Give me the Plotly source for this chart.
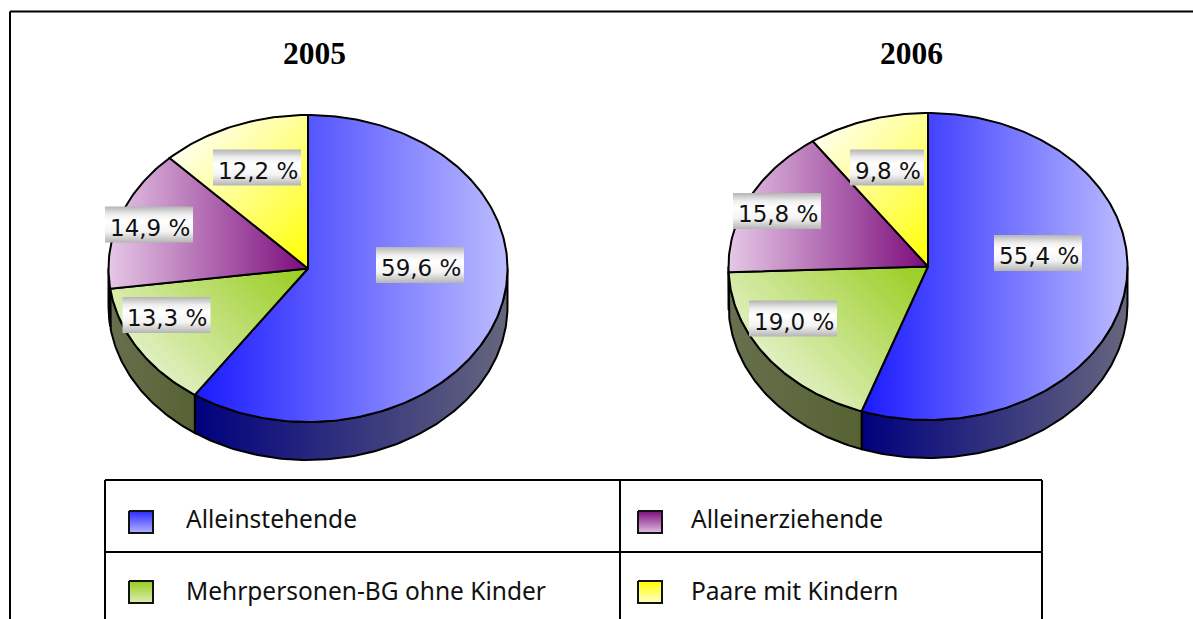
import numpy as np
import plotly.graph_objects as go

# ---- data ----
years = ["2005", "2006"]
categories = ["Alleinstehende", "Mehrpersonen-BG ohne Kinder", "Alleinerziehende", "Paare mit Kindern"]
values_2005 = [59.6, 13.3, 14.9, 12.2]
values_2006 = [55.4, 19.0, 15.8, 9.8]
labels_2005 = ["59,6 %", "13,3 %", "14,9 %", "12,2 %"]
labels_2006 = ["55,4 %", "19,0 %", "15,8 %", "9,8 %"]

# ---- layout constants ----
W, H = 1193, 619
PIES = [
    dict(year=years[0], values=values_2005, labels=labels_2005, cx=308, cy=268.5, rx=199.5, ry=153.5, depth=38,
         title_x=314.5, boxes=[(420, 265, 88), (166.5, 315, 88), (149, 224.5, 88), (257, 167.5, 88)]),
    dict(year=years[1], values=values_2006, labels=labels_2006, cx=928, cy=266.5, rx=199.5, ry=153.5, depth=38,
         title_x=911, boxes=[(1038, 253, 88), (793, 318.5, 88), (777, 211, 88), (887, 167.5, 74)]),
]
TITLE_Y = 53
PAD = 8
BOX_H = 36

TOP = [
    dict(kind="h", c0="#1a1aff", c1="#bcbcff"),
    dict(kind="d", c0="#98cc1c", c1="#e0f0c0", dir=(-1, -1)),
    dict(kind="h", c0="#e6c8e6", c1="#7c0c7c"),
    dict(kind="d", c0="#ffff00", c1="#ffffee", dir=(-1, 1)),
]
SIDE = [("#00007e", "#66667e"), ("#66704e", "#566232"), ("#4a204a", "#4a204a"), ("#808000", "#808000")]

LEG_COLORS = [("#2a2aff", "#b4b4ff"), ("#98cc1c", "#dcedb4"), ("#7c0c7c", "#e0c0e0"), ("#ffff00", "#ffffc8")]
LEG_SW = [(129, 511), (129, 581), (638, 511), (638, 581)]
LEG_TX = [(184, 518), (184, 590), (689, 518), (689, 590)]
SW_W, SW_H = 24, 22
TABLE = dict(x0=105, x1=1042, xm=620, top=480, mid=552)
FRAME = dict(x=10, y=11.5)

LABEL_FONT = dict(family="DejaVu Sans", size=23, color="#111111")
LEG_FONT = dict(family="Noto Sans", size=24.5, color="#111111")
TITLE_FONT = dict(family="Liberation Serif", size=31.5, color="#000000")


def hex2rgb(h):
    return np.array([int(h[i:i + 2], 16) for i in (1, 3, 5)], float)


def mix(c0, c1, t):
    a = hex2rgb(c0) * (1 - t) + hex2rgb(c1) * t
    return "rgb(%d,%d,%d)" % tuple(a.round())


def arc(a, b):
    n = max(2, int(abs(b - a)) + 2)
    th = np.radians(np.linspace(a, b, n))
    return np.sin(th), np.cos(th)


def clip(poly, n, lim):
    """Keep the part of a convex polygon where dot(p, n) <= lim."""
    out = []
    for i in range(len(poly)):
        p, q = poly[i], poly[(i + 1) % len(poly)]
        dp, dq = p @ n - lim, q @ n - lim
        if dp <= 0:
            out.append(p)
        if dp * dq < 0:
            out.append(p + (q - p) * dp / (dp - dq))
    return np.array(out)


fig = go.Figure()
layout_axes = {}

for idx, pie in enumerate(PIES):
    s = "" if idx == 0 else str(idx + 1)
    xa, ya = "x" + s, "y" + s
    cx, cy, rx, ry, depth = pie["cx"], pie["cy"], pie["rx"], pie["ry"], pie["depth"]
    top_px, bot_px = cy - ry - PAD, cy + ry + depth + PAD
    layout_axes["xaxis" + s] = dict(domain=[(cx - rx - PAD) / W, (cx + rx + PAD) / W],
                                    range=[-(rx + PAD) / rx, (rx + PAD) / rx], visible=False, fixedrange=True)
    layout_axes["yaxis" + s] = dict(domain=[1 - bot_px / H, 1 - top_px / H],
                                    range=[(cy - bot_px) / ry, (cy - top_px) / ry], visible=False, fixedrange=True)
    d = depth / ry
    edges = np.concatenate([[0], np.cumsum(pie["values"])]) / sum(pie["values"]) * 360

    # side walls
    for i in range(len(pie["values"])):
        a, b = max(edges[i], 90), min(edges[i + 1], 270)
        if a >= b:
            continue
        ux, uy = arc(a, b)
        x = np.concatenate([ux, ux[::-1], ux[:1]])
        y = np.concatenate([uy, uy[::-1] - d, uy[:1]])
        c0, c1 = SIDE[i]
        fig.add_trace(go.Scatter(x=x, y=y, xaxis=xa, yaxis=ya, mode="lines", fill="toself",
                                 line=dict(color="black", width=2), hoverinfo="skip", showlegend=False,
                                 fillgradient=dict(type="horizontal",
                                                   colorscale=[[0, c0], [1, c1]])))

    # top slices
    for i in range(len(pie["values"])):
        ux, uy = arc(edges[i], edges[i + 1])
        x = np.concatenate([[0], ux, [0]])
        y = np.concatenate([[0], uy, [0]])
        st = TOP[i]
        if st["kind"] == "h":
            fig.add_trace(go.Scatter(x=x, y=y, xaxis=xa, yaxis=ya, mode="lines", fill="toself",
                                     line=dict(color="black", width=2), hoverinfo="skip",
                                     name=categories[i], showlegend=False,
                                     fillgradient=dict(type="horizontal",
                                                       colorscale=[[0, st["c0"]], [1, st["c1"]]])))
        else:
            poly = np.column_stack([x[:-1], y[:-1]])
            n = np.array([st["dir"][0] * rx, st["dir"][1] * ry], float)
            n /= np.hypot(*n)
            proj = poly @ n
            lo, hi = proj.min(), proj.max()
            steps = 30
            for k in range(steps, 0, -1):
                t = k / steps
                part = clip(poly, n, lo + (hi - lo) * t)
                if len(part) < 3:
                    continue
                fig.add_trace(go.Scatter(x=np.append(part[:, 0], part[0, 0]), y=np.append(part[:, 1], part[0, 1]),
                                         xaxis=xa, yaxis=ya, mode="lines", fill="toself",
                                         fillcolor=mix(st["c0"], st["c1"], t - 0.5 / steps),
                                         line=dict(width=0), hoverinfo="skip", showlegend=False))
            fig.add_trace(go.Scatter(x=x, y=y, xaxis=xa, yaxis=ya, mode="lines",
                                     line=dict(color="black", width=2), hoverinfo="skip",
                                     name=categories[i], showlegend=False))

# overlay axes in page pixels for label plates, swatches
layout_axes["xaxis3"] = dict(domain=[0, 1], range=[0, W], visible=False, fixedrange=True)
layout_axes["yaxis3"] = dict(domain=[0, 1], range=[H, 0], visible=False, fixedrange=True)

annotations = []
for pie in PIES:
    annotations.append(dict(x=pie["title_x"], y=TITLE_Y, xref="x3", yref="y3", text="<b>%s</b>" % pie["year"],
                            showarrow=False, font=TITLE_FONT))
    for (bx, by, bw), lab in zip(pie["boxes"], pie["labels"]):
        x0, x1, y0, y1 = bx - bw / 2, bx + bw / 2, by - BOX_H / 2, by + BOX_H / 2
        fig.add_trace(go.Scatter(x=[x0, x1, x1, x0, x0], y=[y0, y0, y1, y1, y0], xaxis="x3", yaxis="y3",
                                 mode="lines", fill="toself", line=dict(width=0), hoverinfo="skip", showlegend=False,
                                 fillgradient=dict(type="vertical",
                                                   colorscale=[[0, "#b4b4b4"], [0.3, "#f4f4f4"], [0.6, "#ffffff"],
                                                               [0.78, "#eeeeee"], [1, "#b4b4b4"]])))
        annotations.append(dict(x=bx + 0.5, y=by + 3, xref="x3", yref="y3", text=lab, showarrow=False, font=LABEL_FONT))

for (sx, sy), (c0, c1), (tx, ty), name in zip(LEG_SW, LEG_COLORS, LEG_TX, categories):
    fig.add_trace(go.Scatter(x=[sx, sx + SW_W, sx + SW_W, sx, sx], y=[sy, sy, sy + SW_H, sy + SW_H, sy],
                             xaxis="x3", yaxis="y3", mode="lines", fill="toself",
                             line=dict(color="#111111", width=2), hoverinfo="skip", showlegend=False,
                             fillgradient=dict(type="vertical", colorscale=[[0, c1], [1, c0]])))
    annotations.append(dict(x=tx, y=ty, xref="x3", yref="y3", text=name, showarrow=False, xanchor="left", font=LEG_FONT))


def vline(x, y0, y1, w=2):
    return dict(type="line", xref="x3", yref="y3", x0=x, x1=x, y0=y0, y1=y1, line=dict(color="black", width=w))


def hline(y, x0, x1, w=2):
    return dict(type="line", xref="x3", yref="y3", x0=x0, x1=x1, y0=y, y1=y, line=dict(color="black", width=w))


shapes = [
    hline(FRAME["y"], FRAME["x"], W, 2), vline(FRAME["x"], FRAME["y"], H, 2),
    hline(TABLE["top"], TABLE["x0"], TABLE["x1"]), hline(TABLE["mid"], TABLE["x0"], TABLE["x1"]),
    vline(TABLE["x0"], TABLE["top"], H), vline(TABLE["xm"], TABLE["top"], H), vline(TABLE["x1"], TABLE["top"], H),
]

fig.update_layout(width=W, height=H, margin=dict(l=0, r=0, t=0, b=0), paper_bgcolor="white", plot_bgcolor="rgba(0,0,0,0)",
                  showlegend=False, annotations=annotations, shapes=shapes, **layout_axes)
fig.write_html("out.html", config=dict(displayModeBar=False),
               post_script="document.body.style.margin='0';document.documentElement.style.overflow='hidden';")
